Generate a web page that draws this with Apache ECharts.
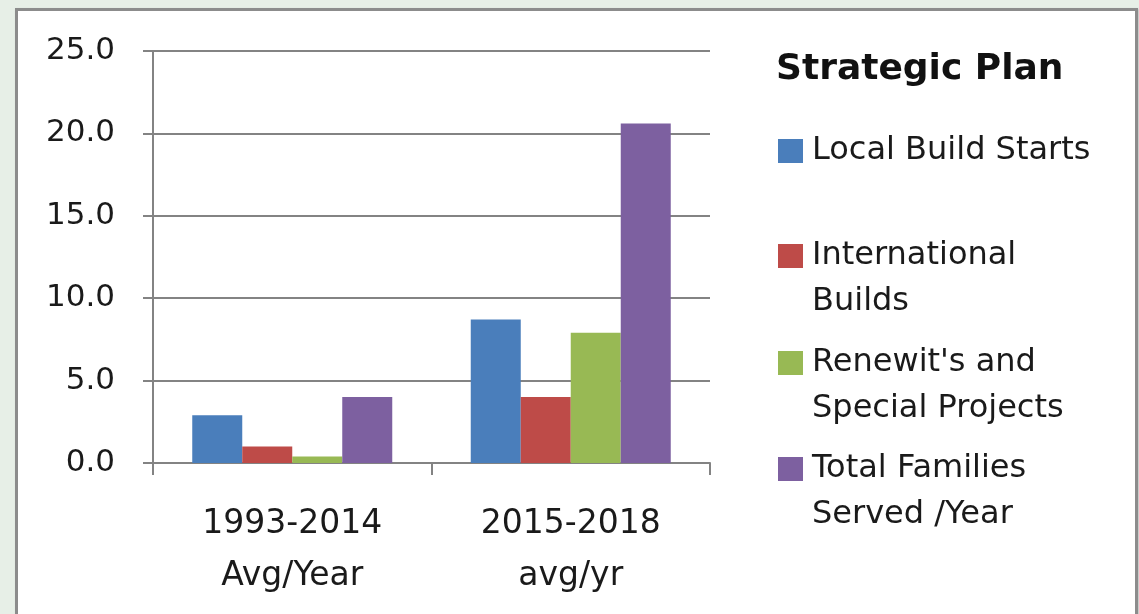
<!DOCTYPE html>
<html>
<head>
<meta charset="utf-8">
<script src="https://cdn.jsdelivr.net/npm/echarts@6/dist/echarts.min.js"></script>
<style>
  html, body { margin: 0; padding: 0; width: 1139px; height: 614px; overflow: hidden; background: #e7efe7; }
  #frame { position: absolute; left: 15px; top: 8px; width: 1117px; height: 640px; background: #ffffff; border: 3px solid #8c8c8c; box-shadow: 1px 1px 2px #bdbdbd; }
  #chart { position: absolute; left: 0; top: 0; width: 1139px; height: 614px; }
</style>
</head>
<body>
<div id="frame"></div>
<div id="chart"></div>
<script>
// ---- data ----
const categories = ['1993-2014\nAvg/Year', '2015-2018\navg/yr'];
const seriesNames = ['Local Build Starts', 'International Builds', "Renewit's and Special Projects", 'Total Families Served /Year'];
const legendLabels = ['Local Build Starts', '\nInternational\nBuilds', "\nRenewit's and\nSpecial Projects", '\nTotal Families\nServed /Year'];
const localBuildStarts = [2.9, 8.7];
const internationalBuilds = [1.0, 4.0];
const renewitsSpecial = [0.4, 7.9];
const totalFamilies = [4.0, 20.6];
const yTicks = [0, 5, 10, 15, 20, 25];
const legendTitle = 'Strategic Plan';

const values = [localBuildStarts, internationalBuilds, renewitsSpecial, totalFamilies];
const colors = ['#4a7ebb', '#be4b48', '#98b954', '#7d60a0'];
const FONT = 'DejaVu Sans';
const TEXT = '#1a1a1a';
const GRID = '#838383';

const chart = echarts.init(document.getElementById('chart'), null, { renderer: 'canvas' });

const legendCenters = [151, 256, 363, 469];
const LH = 46;
const legends = seriesNames.map((name, i) => {
  const lines = legendLabels[i].split('\n').length;
  return {
    data: [name],
    orient: 'vertical',
    left: 778,
    top: legendCenters[i] - lines * LH / 2,
    padding: 0,
    itemWidth: 25,
    itemHeight: 24,
    icon: 'rect',
    selectedMode: false,
    formatter: () => legendLabels[i],
    textStyle: { fontFamily: FONT, fontSize: 32, color: TEXT, lineHeight: LH, padding: [0, 0, 0, 4] }
  };
});

const option = {
  animation: false,
  backgroundColor: 'transparent',
  title: {
    text: legendTitle,
    left: 776,
    top: 52,
    padding: 0,
    textStyle: { fontFamily: FONT, fontSize: 36, fontWeight: 'bold', color: '#111111', lineHeight: 36 }
  },
  legend: legends,
  grid: { left: 153, right: 429, top: 51, bottom: 151, containLabel: false },
  xAxis: {
    type: 'category',
    data: categories,
    axisLine: { show: true, lineStyle: { color: GRID, width: 2 } },
    axisTick: { show: true, length: 12, interval: 0, lineStyle: { color: GRID, width: 2 } },
    axisLabel: { fontFamily: FONT, fontSize: 33, color: TEXT, lineHeight: 52, margin: 35, interval: 0 },
    splitLine: { show: false }
  },
  yAxis: {
    type: 'value',
    min: yTicks[0],
    max: yTicks[yTicks.length - 1],
    interval: yTicks[1] - yTicks[0],
    axisLine: { show: true, lineStyle: { color: GRID, width: 2 } },
    axisTick: { show: true, length: 10, lineStyle: { color: GRID, width: 2 } },
    axisLabel: { fontFamily: FONT, fontSize: 31, color: TEXT, margin: 38, formatter: v => v.toFixed(1) },
    splitLine: { show: true, lineStyle: { color: GRID, width: 2 } }
  },
  series: seriesNames.map((name, i) => ({
    name: name,
    type: 'bar',
    data: values[i],
    barWidth: 50,
    barGap: '0%',
    itemStyle: { color: colors[i] }
  }))
};

chart.setOption(option);
</script>
</body>
</html>
